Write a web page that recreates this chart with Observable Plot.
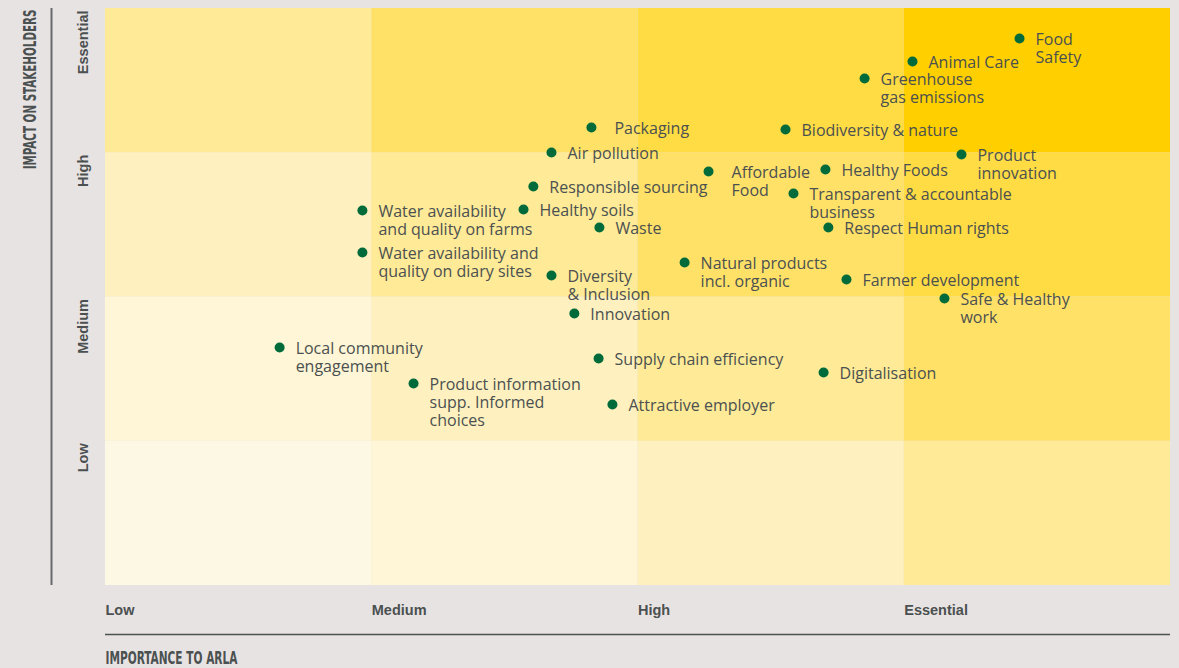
<!DOCTYPE html>
<html>
<head>
<meta charset="utf-8">
<script src="https://cdn.jsdelivr.net/npm/d3@7"></script>
<script src="https://cdn.jsdelivr.net/npm/@observablehq/plot@0.6"></script>
<style>
  html, body { margin: 0; padding: 0; background: #e8e3e3; }
  #chart svg { display: block; background: #e8e3e3; }
</style>
</head>
<body>
<div id="chart"></div>
<script>
// Levels used for both axes (low -> essential)
const levels = ["Low", "Medium", "High", "Essential"];
// Shade of each cell by (column index + row index)
const shades = ["#fdf8e4", "#fef6d6", "#fef1bf", "#feea97", "#ffe168", "#ffdb44", "#ffcf00"];
const yTitle = "IMPACT ON STAKEHOLDERS";
const xTitle = "IMPORTANCE TO ARLA";

// Topics: importance to Arla (x, 0-4) and impact on stakeholders (y, 0-4)
const topics = [
  "Food\nSafety", "Animal Care", "Greenhouse\ngas emissions", "Packaging", "Biodiversity & nature",
  "Air pollution", "Product\ninnovation", "Affordable\nFood", "Healthy Foods", "Responsible sourcing",
  "Transparent & accountable\nbusiness", "Water availability\nand quality on farms", "Healthy soils", "Waste",
  "Respect Human rights", "Water availability and\nquality on diary sites", "Natural products\nincl. organic",
  "Diversity\n& Inclusion", "Farmer development", "Safe & Healthy\nwork", "Innovation",
  "Local community\nengagement", "Supply chain efficiency", "Digitalisation",
  "Product information\nsupp. Informed\nchoices", "Attractive employer"
];
const importance = [
  3.433, 3.031, 2.851, 1.825, 2.554,
  1.675, 3.215, 2.265, 2.704, 1.607,
  2.584, 0.965, 1.570, 1.855,
  2.715, 0.965, 2.175,
  1.675, 2.783, 3.151, 1.761,
  0.654, 1.852, 2.697,
  1.157, 1.904
];
const impact = [
  3.792, 3.633, 3.515, 3.175, 3.161,
  3.002, 2.988, 2.870, 2.884, 2.766,
  2.718, 2.600, 2.607, 2.482,
  2.482, 2.308, 2.239,
  2.149, 2.121, 1.990, 1.886,
  1.650, 1.574, 1.477,
  1.400, 1.255
];
const wideGap = new Set(["Packaging", "Affordable\nFood"]);

const cells = [];
levels.forEach((_, ci) => levels.forEach((_, ri) => cells.push({c: ci, r: ri, fill: shades[ci + ri]})));
const points = topics.map((t, i) => ({name: t, x: importance[i], y: impact[i]}));

const textColor = "#4b5050";
const labelFont = "'Open Sans', Lato, sans-serif";
const axisFont = "'DejaVu Sans Condensed', 'DejaVu Sans', sans-serif";
const tickFont = "'Liberation Sans', sans-serif";

const labelStyle = {
  x: "x", y: "y", text: "name", textAnchor: "start", lineAnchor: "top",
  dy: -6.2, lineHeight: 1.13, fontSize: 16, fontFamily: labelFont, fill: textColor
};

const chart = Plot.plot({
  width: 1179,
  height: 668,
  marginLeft: 105,
  marginRight: 9,
  marginTop: 8,
  marginBottom: 83,
  style: {background: "#e8e3e3", color: textColor},
  x: {domain: [0, 4]},
  y: {domain: [0, 4]},
  marks: [
    Plot.rect(cells, {x1: "c", x2: d => d.c + 1, y1: "r", y2: d => d.r + 1, fill: "fill"}),
    Plot.axisX({
      ticks: [0, 1, 2, 3], tickFormat: d => levels[d], tickSize: 0, tickPadding: 19,
      textAnchor: "start", fontSize: 14.5, fontWeight: "bold", fontFamily: tickFont,
      fill: textColor, label: null
    }),
    Plot.axisY({
      ticks: [1, 2, 3, 4], tickFormat: d => levels[d - 1], tickSize: 0, tickPadding: 22,
      rotate: -90, textAnchor: "end", lineAnchor: "middle", dy: 2, fontSize: 14.5, fontWeight: "bold",
      fontFamily: tickFont, fill: textColor, label: null
    }),
    Plot.ruleX([0], {dx: -54, stroke: "#666a6a", strokeWidth: 2}),
    Plot.ruleY([0], {dy: 49, stroke: "#4b5050", strokeWidth: 1.5}),
    Plot.text([yTitle], {
      frameAnchor: "top-left", rotate: -90, textAnchor: "end", lineAnchor: "middle", dx: -75, dy: 1,
      fontSize: 18, fontWeight: "bold", fontFamily: axisFont, fill: textColor
    }),
    Plot.text([xTitle], {
      frameAnchor: "bottom-left", textAnchor: "start", lineAnchor: "top", dy: 66,
      fontSize: 18, fontWeight: "bold", fontFamily: axisFont, fill: textColor
    }),
    Plot.dot(points, {x: "x", y: "y", r: 5, fill: "#006b3a", stroke: null}),
    Plot.text(points.filter(d => !wideGap.has(d.name)), {...labelStyle, dx: 16}),
    Plot.text(points.filter(d => wideGap.has(d.name)), {...labelStyle, dx: 23})
  ]
});
document.getElementById("chart").append(chart);

// condense the two axis titles to the reference's narrow letterforms
function condense(title, target) {
  d3.select(chart).selectAll("text")
    .filter(function() { return this.textContent === title; })
    .each(function() {
      const len = this.getComputedTextLength();
      if (!len) return;
      const t = this.getAttribute("transform") || "";
      this.setAttribute("transform", `${t} scale(${target / len},1)`);
    });
}
condense(yTitle, 160);
condense(xTitle, 132);
</script>
</body>
</html>
